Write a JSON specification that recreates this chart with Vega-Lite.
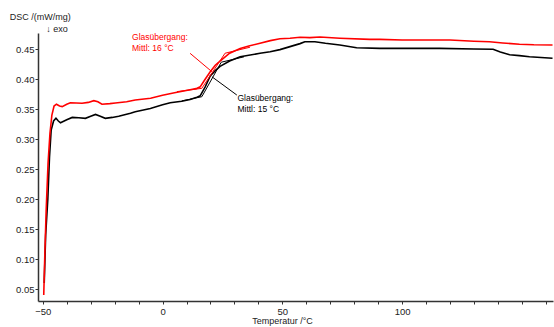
{
  "$schema": "https://vega.github.io/schema/vega-lite/v6.json",
  "width": 515,
  "height": 268,
  "autosize": {"type": "none"},
  "padding": {"left": 38, "top": 33, "right": 1, "bottom": 26},
  "config": {
    "view": {"stroke": null},
    "font": "Liberation Sans",
    "axis": {
      "domainColor": "#333333",
      "domainWidth": 1.5,
      "tickColor": "#333333",
      "tickSize": 3,
      "tickWidth": 1,
      "labelFont": "Liberation Sans",
      "labelFontSize": 9.5,
      "labelColor": "#222222",
      "labelOverlap": false,
      "labelFlush": false,
      "titleFont": "Liberation Sans",
      "titleFontSize": 9,
      "titleFontWeight": "normal",
      "titleColor": "#222222",
      "grid": false
    }
  },
  "datasets": {
    "curves": [
      {"s": "A", "T": -49.6, "v": 0.04}, {"s": "A", "T": -49.2, "v": 0.10}, {"s": "A", "T": -48.6, "v": 0.18},
      {"s": "A", "T": -47.8, "v": 0.26}, {"s": "A", "T": -47.0, "v": 0.31}, {"s": "A", "T": -46.2, "v": 0.34},
      {"s": "A", "T": -45.3, "v": 0.355}, {"s": "A", "T": -44.3, "v": 0.358}, {"s": "A", "T": -43.0, "v": 0.355},
      {"s": "A", "T": -41.9, "v": 0.354}, {"s": "A", "T": -40.0, "v": 0.358}, {"s": "A", "T": -38.5, "v": 0.3605},
      {"s": "A", "T": -36.0, "v": 0.360}, {"s": "A", "T": -33.6, "v": 0.3595}, {"s": "A", "T": -31.0, "v": 0.361},
      {"s": "A", "T": -28.7, "v": 0.364}, {"s": "A", "T": -27.0, "v": 0.362}, {"s": "A", "T": -25.3, "v": 0.358},
      {"s": "A", "T": -22.0, "v": 0.359}, {"s": "A", "T": -19.7, "v": 0.360}, {"s": "A", "T": -15.0, "v": 0.362},
      {"s": "A", "T": -11.4, "v": 0.365}, {"s": "A", "T": -5.0, "v": 0.368}, {"s": "A", "T": 0.0, "v": 0.373},
      {"s": "A", "T": 5.0, "v": 0.377}, {"s": "A", "T": 11.5, "v": 0.382}, {"s": "A", "T": 14.0, "v": 0.384},
      {"s": "A", "T": 15.7, "v": 0.387}, {"s": "A", "T": 17.5, "v": 0.398}, {"s": "A", "T": 19.9, "v": 0.412},
      {"s": "A", "T": 22.0, "v": 0.423}, {"s": "A", "T": 24.0, "v": 0.430}, {"s": "A", "T": 28.0, "v": 0.443},
      {"s": "A", "T": 32.4, "v": 0.451}, {"s": "A", "T": 36.0, "v": 0.455}, {"s": "A", "T": 40.7, "v": 0.4595},
      {"s": "A", "T": 45.0, "v": 0.464}, {"s": "A", "T": 49.0, "v": 0.467}, {"s": "A", "T": 53.2, "v": 0.468},
      {"s": "A", "T": 57.4, "v": 0.4695}, {"s": "A", "T": 61.5, "v": 0.469}, {"s": "A", "T": 65.7, "v": 0.470},
      {"s": "A", "T": 74.0, "v": 0.468}, {"s": "A", "T": 86.5, "v": 0.466}, {"s": "A", "T": 90.7, "v": 0.466},
      {"s": "A", "T": 100.0, "v": 0.465}, {"s": "A", "T": 107.4, "v": 0.465}, {"s": "A", "T": 115.7, "v": 0.465},
      {"s": "A", "T": 120.0, "v": 0.465}, {"s": "A", "T": 130.0, "v": 0.463}, {"s": "A", "T": 136.5, "v": 0.462},
      {"s": "A", "T": 142.0, "v": 0.460}, {"s": "A", "T": 149.0, "v": 0.458}, {"s": "A", "T": 155.0, "v": 0.457},
      {"s": "A", "T": 162.8, "v": 0.4567},

      {"s": "B", "T": -49.4, "v": 0.06}, {"s": "B", "T": -48.8, "v": 0.14}, {"s": "B", "T": -47.9, "v": 0.20},
      {"s": "B", "T": -47.2, "v": 0.27}, {"s": "B", "T": -46.5, "v": 0.315}, {"s": "B", "T": -45.5, "v": 0.330},
      {"s": "B", "T": -44.5, "v": 0.3345}, {"s": "B", "T": -43.5, "v": 0.330}, {"s": "B", "T": -42.6, "v": 0.327},
      {"s": "B", "T": -40.0, "v": 0.332}, {"s": "B", "T": -37.7, "v": 0.336}, {"s": "B", "T": -35.0, "v": 0.3355},
      {"s": "B", "T": -32.2, "v": 0.3345}, {"s": "B", "T": -30.0, "v": 0.338}, {"s": "B", "T": -28.0, "v": 0.341},
      {"s": "B", "T": -26.0, "v": 0.338}, {"s": "B", "T": -23.9, "v": 0.3345}, {"s": "B", "T": -21.0, "v": 0.336},
      {"s": "B", "T": -18.3, "v": 0.338}, {"s": "B", "T": -13.4, "v": 0.343}, {"s": "B", "T": -11.4, "v": 0.3455},
      {"s": "B", "T": -5.1, "v": 0.351}, {"s": "B", "T": 0.0, "v": 0.357}, {"s": "B", "T": 3.2, "v": 0.3605},
      {"s": "B", "T": 8.0, "v": 0.363}, {"s": "B", "T": 11.5, "v": 0.366}, {"s": "B", "T": 14.0, "v": 0.369},
      {"s": "B", "T": 15.7, "v": 0.372}, {"s": "B", "T": 17.8, "v": 0.387}, {"s": "B", "T": 19.9, "v": 0.405},
      {"s": "B", "T": 22.0, "v": 0.414}, {"s": "B", "T": 24.0, "v": 0.421}, {"s": "B", "T": 28.0, "v": 0.430},
      {"s": "B", "T": 32.4, "v": 0.437}, {"s": "B", "T": 40.7, "v": 0.443}, {"s": "B", "T": 44.9, "v": 0.4455},
      {"s": "B", "T": 49.0, "v": 0.449}, {"s": "B", "T": 53.2, "v": 0.454}, {"s": "B", "T": 57.4, "v": 0.459},
      {"s": "B", "T": 59.4, "v": 0.462}, {"s": "B", "T": 63.6, "v": 0.462}, {"s": "B", "T": 68.0, "v": 0.4595},
      {"s": "B", "T": 74.0, "v": 0.4567}, {"s": "B", "T": 81.0, "v": 0.452}, {"s": "B", "T": 90.7, "v": 0.451},
      {"s": "B", "T": 104.5, "v": 0.451}, {"s": "B", "T": 115.7, "v": 0.451}, {"s": "B", "T": 130.0, "v": 0.450},
      {"s": "B", "T": 138.0, "v": 0.4495}, {"s": "B", "T": 141.0, "v": 0.445}, {"s": "B", "T": 144.9, "v": 0.4405},
      {"s": "B", "T": 149.0, "v": 0.439}, {"s": "B", "T": 153.2, "v": 0.437}, {"s": "B", "T": 162.8, "v": 0.4345}
    ],
    "segs": [
      {"s": "A", "T": 6.0, "v": 0.379, "T2": 16.4, "v2": 0.3845},
      {"s": "A", "T": 16.4, "v": 0.3845, "T2": 26.1, "v2": 0.443},
      {"s": "A", "T": 26.1, "v": 0.443, "T2": 36.5, "v2": 0.453},
      {"s": "A", "T": 11.5, "v": 0.4428, "T2": 20.6, "v2": 0.4122},
      {"s": "B", "T": 8.0, "v": 0.3635, "T2": 16.4, "v2": 0.3705},
      {"s": "B", "T": 16.4, "v": 0.3705, "T2": 24.5, "v2": 0.428},
      {"s": "B", "T": 24.5, "v": 0.428, "T2": 34.0, "v2": 0.437},
      {"s": "B", "T": 20.6, "v": 0.4038, "T2": 31.0, "v2": 0.3733}
    ],
    "labels": [
      {"s": "A", "T": -12.75, "v": 0.4695, "text": "Glasübergang:"},
      {"s": "A", "T": -12.75, "v": 0.4512, "text": "Mittl:  16 °C"},
      {"s": "B", "T": 31.25, "v": 0.3678, "text": "Glasübergang:"},
      {"s": "B", "T": 31.25, "v": 0.3495, "text": "Mittl:  15 °C"}
    ],
    "exo": [
      {"T": -48.6, "v": 0.4789, "text": "↓ exo"}
    ]
  },
  "layer": [
    {
      "data": {"name": "curves"},
      "transform": [{"filter": "datum.s === 'B'"}],
      "mark": {"type": "line", "strokeWidth": 1.6, "clip": true},
      "encoding": {
        "x": {
          "field": "T", "type": "quantitative",
          "scale": {"domain": [-52, 163], "nice": false, "zero": false},
          "axis": {
            "title": "Temperatur /°C",
            "values": [-50, -40, -30, -20, -10, 0, 10, 20, 30, 40, 50, 60, 70, 80, 90, 100, 110, 120, 130, 140, 150, 160],
            "tickCount": 40,
            "labelExpr": "(datum.value % 50 === 0 && datum.value < 150) ? datum.label : ''",
            "labelOverlap": false,
            "labelPadding": 2,
            "titleX": 244,
            "titleY": 22.5,
            "titleBaseline": "alphabetic",
            "titleAlign": "center"
          }
        },
        "y": {
          "field": "v", "type": "quantitative",
          "scale": {"domain": [0.03, 0.4767], "nice": false, "zero": false},
          "axis": {
            "title": "DSC /(mW/mg)",
            "values": [0.05, 0.1, 0.15, 0.2, 0.25, 0.3, 0.35, 0.4, 0.45],
            "tickCount": 40,
            "format": ".2f",
            "labelOverlap": false,
            "labelPadding": 1,
            "titleAngle": 0,
            "titleAlign": "left",
            "titleBaseline": "alphabetic",
            "titleX": -28.7,
            "titleY": -13.7
          }
        },
        "color": {"field": "s", "type": "nominal", "scale": {"domain": ["A", "B"], "range": ["#ff0000", "#000000"]}, "legend": null}
      }
    },
    {
      "data": {"name": "curves"},
      "transform": [{"filter": "datum.s === 'A'"}],
      "mark": {"type": "line", "strokeWidth": 1.6, "clip": true},
      "encoding": {
        "x": {"field": "T", "type": "quantitative"},
        "y": {"field": "v", "type": "quantitative"},
        "color": {"field": "s", "type": "nominal", "legend": null}
      }
    },
    {
      "data": {"name": "segs"},
      "mark": {"type": "rule", "strokeWidth": 1},
      "encoding": {
        "x": {"field": "T", "type": "quantitative"},
        "y": {"field": "v", "type": "quantitative"},
        "x2": {"field": "T2"},
        "y2": {"field": "v2"},
        "color": {"field": "s", "type": "nominal", "legend": null}
      }
    },
    {
      "data": {"name": "labels"},
      "mark": {"type": "text", "align": "left", "baseline": "middle", "fontSize": 8.5, "font": "Liberation Sans"},
      "encoding": {
        "x": {"field": "T", "type": "quantitative"},
        "y": {"field": "v", "type": "quantitative"},
        "text": {"field": "text"},
        "color": {"field": "s", "type": "nominal", "legend": null}
      }
    },
    {
      "data": {"name": "exo"},
      "mark": {"type": "text", "align": "left", "baseline": "alphabetic", "fontSize": 9, "font": "Liberation Sans", "color": "#222222", "clip": false},
      "encoding": {
        "x": {"field": "T", "type": "quantitative"},
        "y": {"field": "v", "type": "quantitative"},
        "text": {"field": "text"}
      }
    }
  ]
}
